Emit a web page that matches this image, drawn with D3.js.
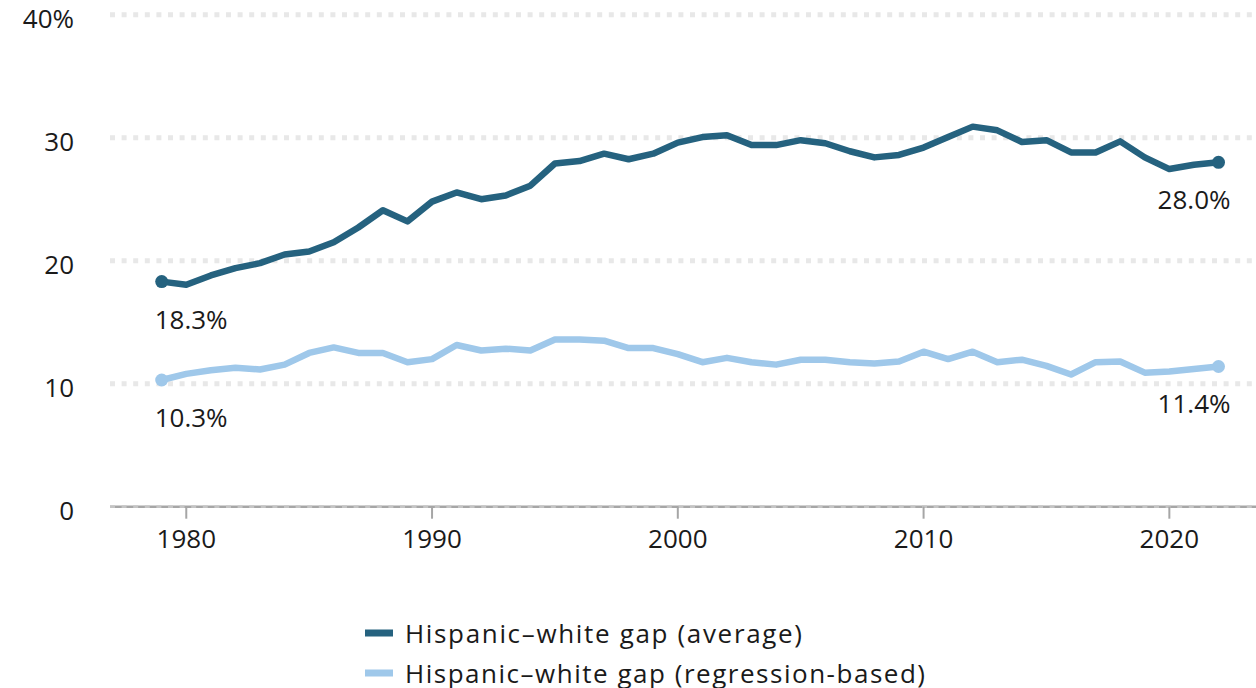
<!DOCTYPE html>
<html>
<head>
<meta charset="utf-8">
<script src="https://cdn.jsdelivr.net/npm/d3@7"></script>
<style>
  html, body { margin: 0; padding: 0; background: #fff; }
  svg { display: block; font-family: "Open Sans", Lato, sans-serif; }
</style>
</head>
<body>
<svg id="chart" width="1256" height="688"></svg>
<script>
// Hispanic–white gap, 1979–2022 (percent)
const years = d3.range(1979, 2023);
const gapAverage = [
  18.3, 18.05, 18.8, 19.4, 19.8, 20.5, 20.75, 21.5, 22.7, 24.1,
  23.2, 24.8, 25.55, 25.0, 25.3, 26.1, 27.9, 28.1, 28.7, 28.25,
  28.7, 29.6, 30.05, 30.2, 29.4, 29.4, 29.8, 29.55, 28.9, 28.4,
  28.6, 29.2, 30.05, 30.9, 30.6, 29.65, 29.8, 28.8, 28.8, 29.7,
  28.4, 27.45, 27.8, 28.0
];
const gapRegression = [
  10.3, 10.8, 11.1, 11.3, 11.15, 11.55, 12.5, 12.95, 12.5, 12.5,
  11.75, 12.0, 13.15, 12.7, 12.85, 12.7, 13.6, 13.6, 13.5, 12.9,
  12.9, 12.4, 11.75, 12.1, 11.75, 11.55, 11.95, 11.95, 11.75, 11.65,
  11.8, 12.6, 12.0, 12.6, 11.75, 11.95, 11.45, 10.75, 11.75, 11.8,
  10.9, 11.0, 11.2, 11.4
];
const yTicks = [0, 10, 20, 30, 40];
const xTicks = [1980, 1990, 2000, 2010, 2020];
const seriesNames = ["Hispanic–white gap (average)", "Hispanic–white gap (regression-based)"];
const seriesColors = ["#25627f", "#9fc8ea"];

const svg = d3.select("#chart");
const plotLeft = 110, plotRight = 1256;

const x = d3.scaleLinear().domain([1979, 2022]).range([161.7, 1218.5]);
const y = d3.scaleLinear().domain([0, 40]).range([506.7, 14.7]);

// dotted horizontal gridlines
svg.append("g")
  .selectAll("line")
  .data(yTicks.filter(t => t > 0))
  .join("line")
  .attr("x1", plotLeft).attr("x2", plotRight)
  .attr("y1", d => y(d)).attr("y2", d => y(d))
  .attr("stroke", "#e8e8e8")
  .attr("stroke-width", 5)
  .attr("stroke-dasharray", "5 6.6");

// y-axis labels
svg.append("g")
  .selectAll("text")
  .data(yTicks)
  .join("text")
  .attr("x", 74)
  .attr("y", d => y(d) + 13)
  .attr("text-anchor", "end")
  .attr("font-size", 26)
  .attr("fill", "#1a1a1a")
  .text(d => d === 40 ? "40%" : d);

// x axis: baseline and ticks
const xAxis = svg.append("g").attr("transform", `translate(0,${y(0)})`);
xAxis.append("line")
  .attr("x1", plotLeft).attr("x2", plotRight)
  .attr("stroke", "#a6a6a6").attr("stroke-width", 2.5);
xAxis.append("line")
  .attr("x1", plotLeft).attr("x2", plotRight)
  .attr("stroke", "#c4c4c4").attr("stroke-width", 2.5)
  .attr("stroke-dasharray", "5 6.6");
xAxis.selectAll("line.tick")
  .data(xTicks)
  .join("line")
  .attr("class", "tick")
  .attr("x1", d => x(d)).attr("x2", d => x(d))
  .attr("y1", 0).attr("y2", 12)
  .attr("stroke", "#a6a6a6").attr("stroke-width", 2);
xAxis.selectAll("text")
  .data(xTicks)
  .join("text")
  .attr("x", d => x(d))
  .attr("y", 41)
  .attr("text-anchor", "middle")
  .attr("font-size", 26)
  .attr("fill", "#1a1a1a")
  .text(d => d);

// series lines
const line = d3.line()
  .x((d, i) => x(years[i]))
  .y(d => y(d));

[gapRegression, gapAverage].forEach((vals, k) => {
  const color = k === 0 ? seriesColors[1] : seriesColors[0];
  svg.append("path")
    .datum(vals)
    .attr("fill", "none")
    .attr("stroke", color)
    .attr("stroke-width", 6.5)
    .attr("stroke-linejoin", "round")
    .attr("d", line);
  const ends = [0, vals.length - 1];
  svg.selectAll(null)
    .data(ends)
    .join("circle")
    .attr("cx", i => x(years[i]))
    .attr("cy", i => y(vals[i]))
    .attr("r", 6.5)
    .attr("fill", color);
});

// end-point value labels
const fmt = v => v.toFixed(1) + "%";
const labels = [
  { v: gapAverage[0], i: 0, anchor: "start", dx: -7 },
  { v: gapRegression[0], i: 0, anchor: "start", dx: -7 },
  { v: gapAverage[gapAverage.length - 1], i: years.length - 1, anchor: "end", dx: 12 },
  { v: gapRegression[gapRegression.length - 1], i: years.length - 1, anchor: "end", dx: 12 }
];
svg.append("g")
  .selectAll("text")
  .data(labels)
  .join("text")
  .attr("x", d => x(years[d.i]) + d.dx)
  .attr("y", d => y(d.v) + 47)
  .attr("text-anchor", d => d.anchor)
  .attr("font-size", 26)
  .attr("fill", "#1a1a1a")
  .text(d => fmt(d.v));

// legend (text stretched to the wide legend face)
const legendWidths = [397, 520];
const legend = svg.append("g").attr("transform", "translate(365,633)");
seriesNames.forEach((name, k) => {
  const g = legend.append("g").attr("transform", `translate(0,${k * 40})`);
  g.append("rect")
    .attr("x", 0).attr("y", -3.5)
    .attr("width", 28).attr("height", 7)
    .attr("fill", seriesColors[k]);
  g.append("text")
    .attr("x", 40).attr("y", 10)
    .attr("font-size", 26)
    .attr("fill", "#1a1a1a")
    .attr("textLength", legendWidths[k])
    .attr("lengthAdjust", "spacing")
    .text(name);
});
</script>
</body>
</html>
